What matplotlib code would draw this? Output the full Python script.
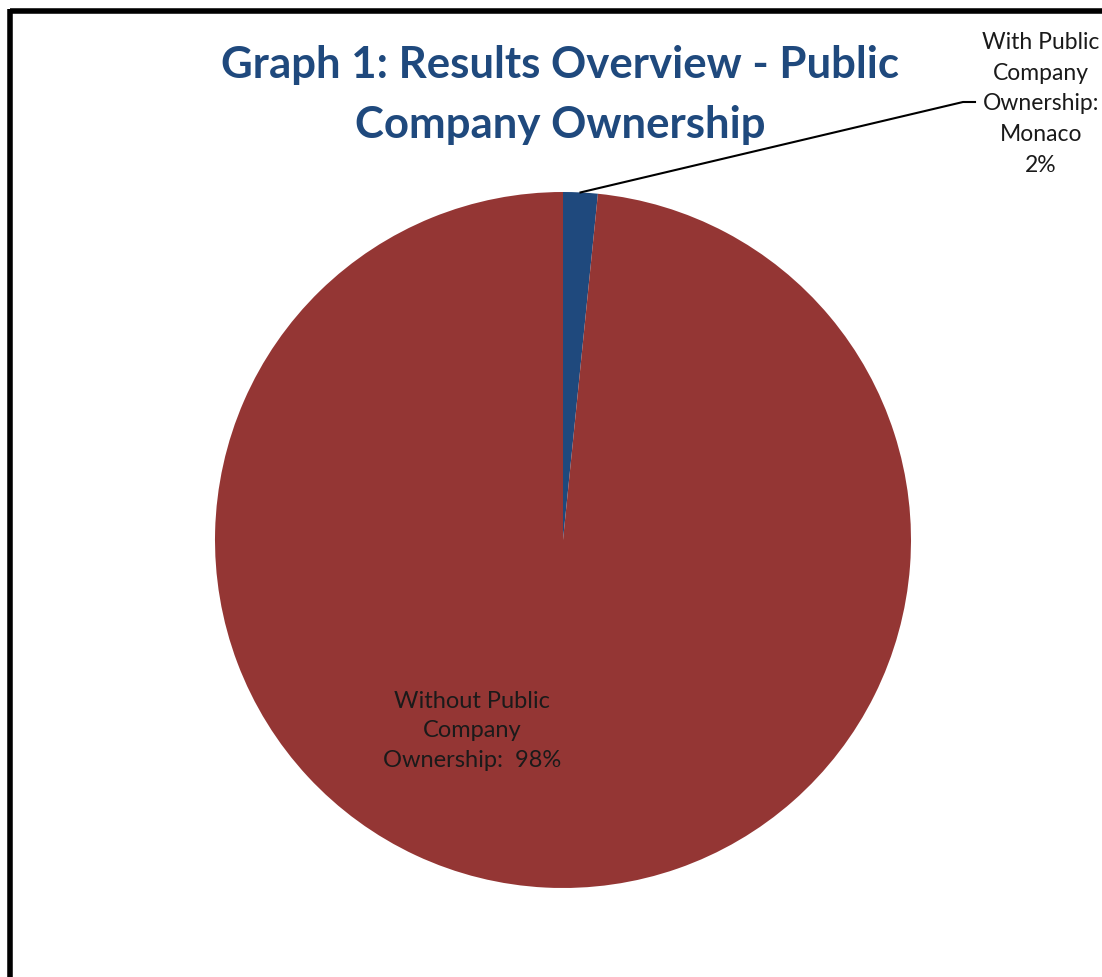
import matplotlib
matplotlib.use("Agg")
import matplotlib.pyplot as plt
from matplotlib.lines import Line2D
import numpy as np

# data
categories = ["With Public\nCompany\nOwnership:\nMonaco", "Without Public\nCompany\nOwnership:"]
shares = [1.6, 98.4]
pct_labels = ["2%", "98%"]
colors = ["#1F497D", "#943634"]

W, H = 1102, 978
fig = plt.figure(figsize=(W / 100, H / 100), dpi=100)
fig.patch.set_facecolor("white")

# pie axes: centre (563, 541) px, radius 348 px
cx, cy, r = 563, 541, 348
ax = fig.add_axes([(cx - r) / W, (H - cy - r) / H, 2 * r / W, 2 * r / H])
wedges, _ = ax.pie(shares, colors=colors, startangle=90, counterclock=False,
                   radius=1, wedgeprops=dict(linewidth=0))
ax.set_xlim(-1, 1)
ax.set_ylim(-1, 1)
ax.set_aspect("equal")
ax.axis("off")

# chart border (only top and left edges visible in the crop)
fig.add_artist(Line2D([10 / W, 1], [1 - 12 / H, 1 - 12 / H], transform=fig.transFigure,
                      color="black", lw=4, solid_capstyle="butt"))
fig.add_artist(Line2D([10 / W, 10 / W], [0, 1 - 10 / H], transform=fig.transFigure,
                      color="black", lw=4, solid_capstyle="butt"))

# title
fig.text(560 / W, 1 - 95 / H, "Graph 1: Results Overview - Public\nCompany Ownership",
         ha="center", va="center", fontsize=31.5, fontweight="bold", color="#1F497D",
         family="Lato", linespacing=1.6)

# label for the small slice with leader line
w = wedges[0]
mid = np.deg2rad((w.theta1 + w.theta2) / 2)
px = np.cos(mid)
py = np.sin(mid)
sx, sy = ax.transData.transform((px, py))
fig.add_artist(Line2D([sx / W, 963 / W, 975 / W],
                      [sy / H, 1 - 103 / H, 1 - 103 / H],
                      transform=fig.transFigure, color="black", lw=1.5))
fig.text(1041 / W, 1 - 104 / H, categories[0] + "\n" + pct_labels[0],
         ha="center", va="center", fontsize=16.5, family="Lato",
         linespacing=1.58, color="#1a1a1a")

# label inside the big slice
fig.text(472 / W, 1 - 731 / H, categories[1] + "  " + pct_labels[1],
         ha="center", va="center", fontsize=17, family="Lato",
         linespacing=1.52, color="#1a1a1a")

fig.savefig("out.png", dpi=100, facecolor="white")
